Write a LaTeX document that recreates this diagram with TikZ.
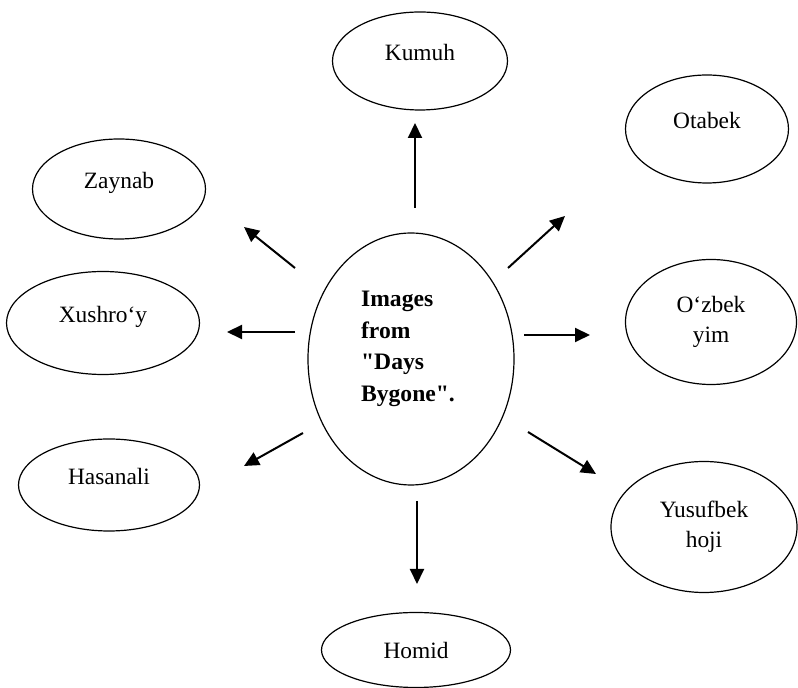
\documentclass[tikz,border=0pt]{standalone}
\usepackage{fontspec}
\setmainfont{Liberation Serif}[Ligatures=TeXOff]
\usepackage{tikz}
\usetikzlibrary{shapes.geometric, arrows.meta}

\begin{document}
\begin{tikzpicture}[x=0.5pt, y=-0.5pt, font=\fontsize{11.7pt}{15pt}\selectfont]
		\tikzstyle{main}=[ellipse, draw=black, line width=0.6pt, inner sep=0pt]
		\tikzstyle{oneline}=[text height=6pt, text depth=6pt]
		\tikzstyle{connect}=[-{Triangle[length=7.5pt, width=7pt]}, line width=1pt]
		\useasboundingbox (0,0) rectangle (798,688);
		
		\node[main, minimum width=103pt, minimum height=126pt,
			label={[align=left, font=\fontsize{11.8pt}{15.75pt}\selectfont\bfseries, xshift=-1.5pt, yshift=5pt]center:Images\\from\\"Days\\Bygone".}] (hub) at (411,359) {};
		
		\node[main, oneline, minimum width=87.5pt, minimum height=49pt] (kumuh) at (420,61) {Kumuh};
		\node[main, oneline, minimum width=81.5pt, minimum height=54pt] (otabek) at (707,129) {Otabek};
		\node[main, align=center, minimum width=85.5pt, minimum height=62.5pt] (uzbek) at (711,322) {O‘zbek\\yim};
		\node[main, align=center, minimum width=93pt, minimum height=65.5pt] (yusufbek) at (704,527) {Yusufbek\\hoji};
		\node[main, minimum width=94.5pt, minimum height=37.5pt] (homid) at (416,650) {Homid};
		\node[main, oneline, minimum width=90.5pt, minimum height=46pt] (hasanali) at (109,485) {Hasanali};
		\node[main, oneline, minimum width=96.5pt, minimum height=51.5pt] (xushroy) at (103,323) {Xushro‘y};
		\node[main, oneline, minimum width=86.5pt, minimum height=50pt] (zaynab) at (119,189) {Zaynab};
		
		\coordinate (kumuhTail) at (415,208);
		\coordinate (kumuhTip) at (415,123);
		\coordinate (otabekTail) at (508,268);
		\coordinate (otabekTip) at (565,216);
		\coordinate (uzbekTail) at (524,335);
		\coordinate (uzbekTip) at (590,335);
		\coordinate (yusufbekTail) at (528,432);
		\coordinate (yusufbekTip) at (596,474);
		\coordinate (homidTail) at (417,501);
		\coordinate (homidTip) at (417,584);
		\coordinate (hasanaliTail) at (303,433);
		\coordinate (hasanaliTip) at (244,466);
		\coordinate (xushroyTail) at (295,332);
		\coordinate (xushroyTip) at (227,332);
		\coordinate (zaynabTail) at (295,268);
		\coordinate (zaynabTip) at (244,227);
		
		\path (kumuhTail) edge [connect] (kumuhTip);
		\path (otabekTail) edge [connect] (otabekTip);
		\path (uzbekTail) edge [connect] (uzbekTip);
		\path (yusufbekTail) edge [connect] (yusufbekTip);
		\path (homidTail) edge [connect] (homidTip);
		\path (hasanaliTail) edge [connect] (hasanaliTip);
		\path (xushroyTail) edge [connect] (xushroyTip);
		\path (zaynabTail) edge [connect] (zaynabTip);
		
	\end{tikzpicture}
\end{document}
